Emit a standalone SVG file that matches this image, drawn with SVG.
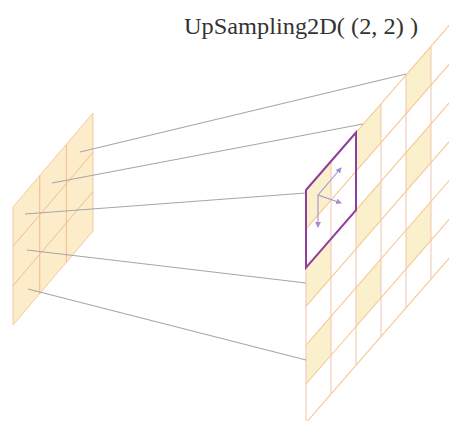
<svg xmlns="http://www.w3.org/2000/svg" width="449" height="421" viewBox="0 0 449 421">
<style>
.lgrid{stroke:#f0bd8c;stroke-width:1;fill:none}
.vline{stroke:#f3c9b4;stroke-width:1.1;fill:none}
.dline{stroke:#f7c895;stroke-width:1.1;fill:none}
.cell{fill:#faf0cb;stroke:none}
.conn{stroke:#a6a6a6;stroke-width:1.1;fill:none}
.arr{stroke:#a58fd2;stroke-width:1.1;fill:none;marker-end:url(#ah)}
</style>
<defs>
<marker id="ah" markerWidth="6" markerHeight="6" refX="5" refY="3" orient="auto" markerUnits="userSpaceOnUse">
<path d="M0,0 L6,3 L0,6 z" fill="#a58fd2"/>
</marker>
</defs>
<rect width="449" height="421" fill="#ffffff"/>
<g id="label">
<text x="184" y="34" font-family="'Liberation Serif', 'Times New Roman', serif" font-size="24" fill="#333333" textLength="234" lengthAdjust="spacingAndGlyphs">UpSampling2D( (2, 2) )</text>
</g>
<g id="input-map">
<polygon points="13,207 93,113 93,231 13,325" fill="#fcecca" stroke="#f4cba0" stroke-width="1"/>
<line class="lgrid" x1="39.7" y1="175.7" x2="39.7" y2="293.7"/>
<line class="lgrid" x1="66.3" y1="144.3" x2="66.3" y2="262.3"/>
<line class="lgrid" x1="13" y1="246.3" x2="93" y2="152.3"/>
<line class="lgrid" x1="13" y1="285.7" x2="93" y2="191.7"/>
</g>
<g id="output-map">
<polygon class="cell" points="306,190 331,161.25 331,200.05 306,228.8"/>
<polygon class="cell" points="306,267.6 331,238.85 331,277.65 306,306.4"/>
<polygon class="cell" points="306,345.2 331,316.45 331,355.25 306,384"/>
<polygon class="cell" points="356,132.5 381,103.75 381,142.55 356,171.3"/>
<polygon class="cell" points="356,210.1 381,181.35 381,220.15 356,248.9"/>
<polygon class="cell" points="356,287.7 381,258.95 381,297.75 356,326.5"/>
<polygon class="cell" points="406,75 431,46.25 431,85.05 406,113.8"/>
<polygon class="cell" points="406,152.6 431,123.85 431,162.65 406,191.4"/>
<polygon class="cell" points="406,230.2 431,201.45 431,240.25 406,269"/>
<line class="vline" x1="306" y1="190" x2="306" y2="422.8"/>
<line class="vline" x1="331" y1="161.25" x2="331" y2="394.05"/>
<line class="vline" x1="356" y1="132.5" x2="356" y2="365.3"/>
<line class="vline" x1="381" y1="103.75" x2="381" y2="336.55"/>
<line class="vline" x1="406" y1="75" x2="406" y2="307.8"/>
<line class="vline" x1="431" y1="46.25" x2="431" y2="279.05"/>
<line class="vline" x1="456" y1="17.5" x2="456" y2="250.3"/>
<line class="dline" x1="306" y1="190" x2="456" y2="17.5"/>
<line class="dline" x1="306" y1="228.8" x2="456" y2="56.3"/>
<line class="dline" x1="306" y1="267.6" x2="456" y2="95.1"/>
<line class="dline" x1="306" y1="306.4" x2="456" y2="133.9"/>
<line class="dline" x1="306" y1="345.2" x2="456" y2="172.7"/>
<line class="dline" x1="306" y1="384" x2="456" y2="211.5"/>
<line class="dline" x1="306" y1="422.8" x2="456" y2="250.3"/>
</g>
<g id="connectors">
<line class="conn" x1="80" y1="152" x2="406" y2="74"/>
<line class="conn" x1="52" y1="183" x2="363" y2="124"/>
<line class="conn" x1="25" y1="214" x2="306" y2="193"/>
<line class="conn" x1="27" y1="250" x2="306" y2="283"/>
<line class="conn" x1="28" y1="289" x2="306" y2="360"/>
</g>
<g id="window">
<polygon points="306,190 356,132.5 356,210.1 306,267.6" fill="none" stroke="#8e3f9c" stroke-width="2"/>
<line class="arr" x1="318" y1="195" x2="341" y2="168"/>
<line class="arr" x1="318" y1="195" x2="341" y2="203"/>
<line class="arr" x1="318" y1="195" x2="318" y2="227"/>
</g>
</svg>
